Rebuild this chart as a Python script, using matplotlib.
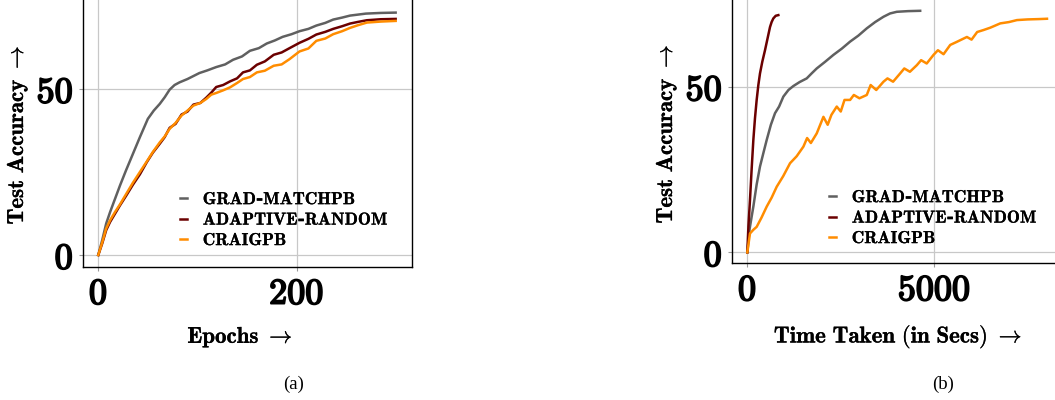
import matplotlib
matplotlib.use("Agg")
import matplotlib.pyplot as plt
import matplotlib.patheffects as pe
from matplotlib.ticker import FuncFormatter

plt.rcParams['mathtext.fontset'] = 'cm'

# ---- data ----
labels = ['GRAD-MATCHPB', 'ADAPTIVE-RANDOM', 'CRAIGPB']
colors = ['#606060', '#6b0000', '#ff8c00']

# (a) accuracy vs epochs
ep_gm = [0, 4, 8, 12, 17, 22, 28, 35, 42, 50, 56, 62, 67, 72, 77, 82, 90, 102, 110, 119, 128, 136, 145, 153, 162, 170, 178, 186, 195, 203, 212, 220, 229, 237, 246, 254, 262, 270, 285, 300]
acc_gm = [0, 4.5, 9.5, 13, 17, 21, 25.5, 30.5, 35.5, 41, 43.5, 45.5, 47.5, 49.8, 51.2, 52, 53, 54.8, 55.6, 56.6, 57.4, 58.8, 59.8, 61.5, 62.3, 63.7, 64.6, 65.7, 66.5, 67.4, 68.1, 69.1, 69.9, 70.9, 71.5, 72.1, 72.4, 72.7, 72.9, 73.0]
ep_ar = [0, 4, 8, 12, 17, 22, 28, 35, 42, 49, 55, 62, 67, 72, 78, 84, 90, 96, 103, 109, 114, 119, 126, 133, 140, 146, 153, 160, 168, 177, 185, 193, 203, 212, 220, 229, 237, 246, 254, 262, 271, 285, 300]
acc_ar = [0, 3.5, 7.5, 10, 12.5, 15, 17.8, 21.2, 24.3, 28, 30.8, 33.5, 35.5, 38.3, 39.5, 42.3, 43.2, 45.3, 45.8, 47.4, 48.9, 50.6, 51.2, 52.3, 53.2, 55, 55.6, 57.3, 58.3, 60.3, 61, 62.3, 63.9, 65.1, 66.4, 67.2, 68.1, 68.9, 69.7, 70.2, 70.7, 71.0, 71.1]
ep_cr = [0, 4, 8, 12, 17, 22, 28, 35, 42, 49, 55, 62, 67, 72, 78, 84, 90, 96, 103, 109, 114, 119, 126, 133, 140, 146, 153, 160, 168, 177, 185, 193, 203, 212, 220, 229, 237, 246, 254, 262, 271, 285, 300]
acc_cr = [0, 3.8, 8, 10.5, 13, 15.3, 18.3, 21.8, 25, 28.2, 31, 33.9, 35.7, 38, 39.8, 42, 43.5, 45, 45.8, 47, 48.3, 48.8, 49.6, 50.5, 51.8, 53, 53.6, 55, 55.5, 57, 57.4, 59, 61.3, 62.2, 64.5, 65.2, 66.5, 67.4, 68.4, 69.2, 70.0, 70.3, 70.5]

# (b) accuracy vs wall-clock time
t_gm = [0, 60, 161, 250, 339, 430, 518, 630, 741, 850, 964, 1100, 1232, 1400, 1589, 1720, 1857, 2080, 2304, 2530, 2750, 2970, 3196, 3420, 3643, 3820, 4000, 4300, 4625]
acc_t_gm = [0, 7, 13.8, 20.5, 25.9, 30, 33.9, 38.5, 42, 44, 47, 49, 50.2, 51.4, 52.5, 54, 55.5, 57.5, 59.6, 61.5, 63.6, 65.4, 67.6, 69.5, 71.1, 72.1, 72.6, 72.8, 72.9]
t_ar = [0, 30, 71, 115, 161, 205, 250, 295, 339, 400, 473, 540, 607, 650, 696, 760, 830]
acc_t_ar = [0, 8, 15.8, 25, 33.9, 40.5, 46, 50.5, 54, 57.5, 61, 64.5, 68, 69.5, 70.6, 71.4, 71.6]
t_cr = [0, 71, 160, 250, 380, 518, 650, 786, 960, 1143, 1320, 1500, 1600, 1700, 1857, 1950, 2036, 2150, 2250, 2393, 2500, 2600, 2750, 2850, 3000, 3196, 3300, 3450, 3643, 3750, 3900, 4089, 4200, 4350, 4536, 4650, 4800, 4982, 5100, 5250, 5429, 5600, 5875, 6000, 6150, 6321, 6500, 6768, 7000, 7214, 7500, 7800, 8018]
acc_t_cr = [0, 5.7, 6.8, 7.7, 10.5, 13.8, 16.5, 19.8, 23, 26.9, 29, 31.9, 34.5, 33, 35.9, 38.5, 40.9, 38.5, 41.5, 44, 42.5, 46, 46, 47.5, 46.5, 47.5, 50.5, 49, 51.5, 52.5, 51.5, 54, 55.5, 54.5, 56.5, 58, 57, 59.6, 61, 59.8, 62.6, 63.5, 65, 64.2, 66.5, 67.1, 67.8, 69.1, 69.5, 70.1, 70.3, 70.4, 70.5]


def bf(s):
    # bold computer-modern text; hyphens kept outside math so they stay hyphens
    parts = [r'$\mathbf{' + p.replace(' ', r'\ ') + '}$' for p in s.split('-')]
    return '-'.join(parts)


def thick(w):
    return [pe.withStroke(linewidth=w, foreground='black')]


fig = plt.figure(figsize=(10.55, 4.0), dpi=100)
bold_fmt = FuncFormatter(lambda v, pos: r'$\mathbf{%d}$' % v)


def style_axis(ax):
    ax.grid(True, color='#c8c8c8', linewidth=0.9)
    ax.set_axisbelow(True)
    for s in ax.spines.values():
        s.set_linewidth(1.0)
        s.set_color('black')
    ax.tick_params(axis='both', length=3, width=0.8, color='#999999', pad=4, labelsize=26)
    ax.xaxis.set_major_formatter(bold_fmt)
    ax.yaxis.set_major_formatter(bold_fmt)
    for lab in ax.get_xticklabels() + ax.get_yticklabels():
        lab.set_path_effects(thick(1.3))


def add_legend(ax, x, y):
    leg = ax.legend(loc='upper left', bbox_to_anchor=(x, y), bbox_transform=fig.transFigure,
                    frameon=False, handlelength=0.4, handletextpad=0.9, labelspacing=0.2,
                    borderpad=0.2, prop={'family': 'DejaVu Serif', 'weight': 'bold', 'size': 12.5})
    for t in leg.get_texts():
        t.set_path_effects(thick(0.15))
    return leg


# ---- panel (a) ----
ax1 = fig.add_axes([83 / 1055, 1 - 267 / 400, 329 / 1055, 271 / 400])
ax1.plot(ep_gm, acc_gm, color=colors[0], lw=1.8, label=bf(labels[0]))
ax1.plot(ep_ar, acc_ar, color=colors[1], lw=1.8, label=bf(labels[1]))
ax1.plot(ep_cr, acc_cr, color=colors[2], lw=1.8, label=bf(labels[2]))
ax1.set_xlim(-15.4, 316.5)
ax1.set_ylim(-3.6, 78)
ax1.set_xticks([0, 200])
ax1.set_yticks([0, 50])
style_axis(ax1)
add_legend(ax1, 168 / 1055, 1 - 179 / 400)

# ---- panel (b) ----
ax2 = fig.add_axes([732 / 1055, 1 - 263.3 / 400, 333 / 1055, 269.4 / 400])
ax2.plot(t_gm, acc_t_gm, color=colors[0], lw=1.8, label=bf(labels[0]))
ax2.plot(t_ar, acc_t_ar, color=colors[1], lw=1.8, label=bf(labels[1]))
ax2.plot(t_cr, acc_t_cr, color=colors[2], lw=1.8, label=bf(labels[2]))
ax2.set_xlim(-410, 8500)
ax2.set_ylim(-3.3, 78)
ax2.set_xticks([0, 5000])
ax2.set_yticks([0, 50])
style_axis(ax2)
add_legend(ax2, 817 / 1055, 1 - 177 / 400)

# axis labels
lab_kw = dict(fontsize=16.5, ha='center', va='center', path_effects=thick(0.2))
fig.text(17 / 1055, 1 - 135 / 400, r'$\mathbf{Test\ Accuracy}\ \rightarrow$', rotation=90, **lab_kw)
fig.text(240 / 1055, 1 - 337 / 400, r'$\mathbf{Epochs}\ \rightarrow$', **lab_kw)
fig.text(666 / 1055, 1 - 134 / 400, r'$\mathbf{Test\ Accuracy}\ \rightarrow$', rotation=90, **lab_kw)
fig.text(898 / 1055, 1 - 337 / 400, r'$\mathbf{Time\ Taken\ (in\ Secs)}\ \rightarrow$', **lab_kw)

# captions
cap_kw = dict(fontfamily='Liberation Serif', fontsize=13.5, ha='center', va='center')
fig.text(294 / 1055, 1 - 384 / 400, '(a)', **cap_kw)
fig.text(943 / 1055, 1 - 384 / 400, '(b)', **cap_kw)

fig.savefig('out.png', dpi=100)
